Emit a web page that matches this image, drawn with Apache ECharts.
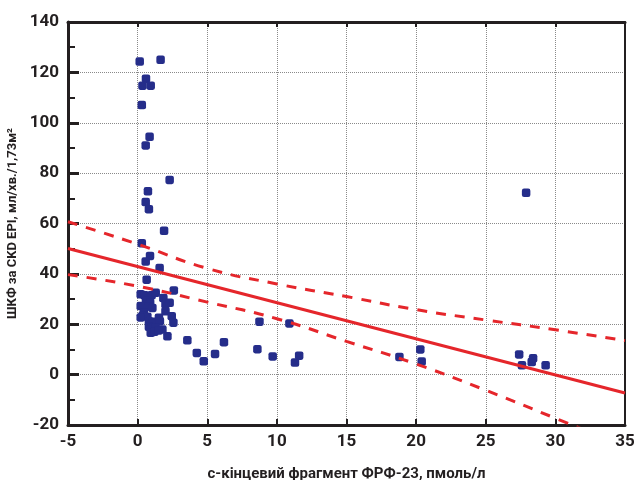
<!DOCTYPE html>
<html>
<head>
<meta charset="utf-8">
<script src="https://cdn.jsdelivr.net/npm/echarts@6/dist/echarts.min.js"></script>
<style>
html,body{margin:0;padding:0;background:#fff;}
#c{width:634px;height:480px;}
</style>
</head>
<body>
<div id="c"></div>
<script>
// Scatter points (x: FGF-23 C-terminal fragment, pmol/l; y: eGFR CKD EPI)
const pointX = [0.15,1.65,0.6,0.35,0.94,0.3,0.86,0.58,2.3,0.74,0.58,0.81,1.9,0.3,0.89,0.58,1.58,0.65,2.6,
  0.22,0.5,1.0,1.3,1.85,0.6,0.9,2.0,2.3,0.22,0.77,1.06,2.0,0.45,0.36,0.7,1.53,2.45,0.22,0.81,1.1,1.6,2.57,0.81,1.0,1.3,1.78,0.94,1.2,1.5,2.14,
  3.57,4.25,4.75,5.56,6.2,8.6,8.75,9.7,10.9,11.3,11.6,18.8,20.3,20.4,27.4,27.6,28.3,28.4,29.3,27.9];
const pointY = [124.3,125,117.5,114.7,114.7,107,94.4,91,77.3,72.8,68.5,65.7,57.1,52.2,47.1,44.9,42.3,37.7,33.4,
  31.9,31.5,31.5,32.5,30.4,29.2,28.5,28,28.5,27.2,27,26.5,25.2,24.6,23.5,23,22.6,23.2,22.7,21.2,21,21.2,20.6,19,18.6,18.6,17.9,16.6,17,17.5,15.2,
  13.6,8.6,5.3,8.2,12.9,10.1,21,7.2,20.3,4.8,7.5,7,10,5.2,8,3.7,5,6.5,3.7,72.2];
// Regression line end points
const fitX = [-5, 35];
const fitY = [50.1, -7.3];
// Confidence band
const bandX = [-5, 0, 5, 10, 15, 20, 25, 30, 35];
const bandUpper = [60.7, 51.8, 42.2, 36.0, 31.0, 25.8, 21.7, 17.8, 13.5];
const bandLower = [39.7, 35.1, 28.8, 22.2, 13.2, 4.2, -6.2, -17.3, -28.5];
// Axis ticks
const xTicks = [-5, 0, 5, 10, 15, 20, 25, 30, 35];
const yTicks = [-20, 0, 20, 40, 60, 80, 100, 120, 140];

const zip = (a, b) => a.map((v, i) => [v, b[i]]);
const FONT = "Roboto,'Liberation Sans',sans-serif";
const RED = '#e5262b';
const INK = '#231f20';

const chart = echarts.init(document.getElementById('c'), null, {renderer: 'canvas'});
chart.setOption({
  animation: false,
  backgroundColor: '#fff',
  grid: {left: 68, right: 9, top: 22, bottom: 55, containLabel: false, outerBoundsMode: 'none'},
  xAxis: [{
    type: 'value', min: xTicks[0], max: xTicks[xTicks.length - 1], interval: 5,
    position: 'bottom',
    axisLine: {show: true, onZero: false, lineStyle: {color: INK, width: 3}},
    axisTick: {show: true, inside: true, length: 6, lineStyle: {color: INK, width: 2}},
    axisLabel: {color: INK, fontFamily: FONT, fontWeight: 'bold', fontSize: 17, margin: 8},
    splitLine: {show: true, lineStyle: {color: '#8a8a8a', type: 'dotted', width: 1}},
    name: 'с-кінцевий фрагмент ФРФ-23, пмоль/л',
    nameLocation: 'middle', nameGap: 42,
    nameTextStyle: {color: INK, fontFamily: FONT, fontWeight: 'bold', fontSize: 15}
  }, {
    type: 'value', min: xTicks[0], max: xTicks[xTicks.length - 1], interval: 5,
    position: 'top',
    axisLine: {show: true, onZero: false, lineStyle: {color: INK, width: 3}},
    axisTick: {show: true, inside: true, length: 5, lineStyle: {color: INK, width: 2}},
    axisLabel: {show: false},
    splitLine: {show: false}
  }],
  yAxis: [{
    type: 'value', min: yTicks[0], max: yTicks[yTicks.length - 1], interval: 20,
    position: 'left',
    axisLine: {show: true, onZero: false, lineStyle: {color: INK, width: 3}},
    axisTick: {show: true, inside: true, length: 11, lineStyle: {color: INK, width: 3}},
    minorTick: {show: true, splitNumber: 2, length: 7, lineStyle: {color: INK, width: 2}},
    axisLabel: {color: INK, fontFamily: FONT, fontWeight: 'bold', fontSize: 17, margin: 9},
    splitLine: {show: true, lineStyle: {color: '#8a8a8a', type: 'dotted', width: 1}},
    name: 'ШКФ за CKD EPI, мл/хв./1,73м²',
    nameLocation: 'middle', nameGap: 48, nameRotate: 90,
    nameTextStyle: {color: INK, fontFamily: FONT, fontWeight: 'bold', fontSize: 13}
  }, {
    type: 'value', min: yTicks[0], max: yTicks[yTicks.length - 1], interval: 20,
    position: 'right',
    axisLine: {show: true, onZero: false, lineStyle: {color: INK, width: 2}},
    axisTick: {show: false},
    axisLabel: {show: false},
    splitLine: {show: false}
  }],
  series: [{
    type: 'scatter',
    data: zip(pointX, pointY),
    symbol: 'roundRect', symbolSize: 8.5,
    itemStyle: {color: '#252d8a', opacity: 1},
    z: 2
  }, {
    type: 'line',
    data: zip(fitX, fitY),
    symbol: 'none',
    lineStyle: {color: RED, width: 3},
    z: 3
  }, {
    type: 'line', smooth: true,
    data: zip(bandX, bandUpper),
    symbol: 'none',
    lineStyle: {color: RED, width: 3, type: [10, 9]},
    z: 3
  }, {
    type: 'line', smooth: true,
    data: zip(bandX, bandLower),
    symbol: 'none',
    lineStyle: {color: RED, width: 3, type: [10, 9]},
    z: 3
  }]
});
</script>
</body>
</html>
